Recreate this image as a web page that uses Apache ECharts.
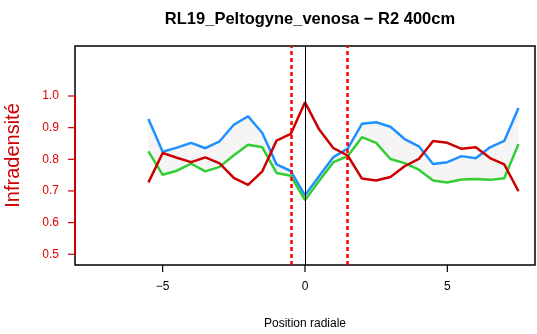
<!DOCTYPE html>
<html>
<head>
<meta charset="utf-8">
<script src="https://cdn.jsdelivr.net/npm/echarts@6/dist/echarts.min.js"></script>
<style>
html,body{margin:0;padding:0;background:#fff;}
#chart{width:537px;height:334px;}
</style>
</head>
<body>
<div id="chart"></div>
<script>
// positions radiales
var xPos = [-5.5,-5,-4.5,-4,-3.5,-3,-2.5,-2,-1.5,-1,-0.5,0,0.5,1,1.5,2,2.5,3,3.5,4,4.5,5,5.5,6,6.5,7,7.5];
// courbes
var blue  = [0.927,0.824,0.837,0.852,0.835,0.857,0.909,0.936,0.883,0.784,0.763,0.686,0.747,0.807,0.834,0.912,0.917,0.903,0.864,0.841,0.785,0.791,0.810,0.803,0.838,0.858,0.962];
var green = [0.825,0.751,0.764,0.786,0.762,0.776,0.813,0.846,0.838,0.757,0.748,0.671,0.732,0.791,0.810,0.870,0.852,0.801,0.788,0.767,0.733,0.727,0.736,0.738,0.735,0.740,0.848];
var red   = [0.727,0.820,0.805,0.791,0.806,0.787,0.741,0.719,0.762,0.859,0.880,0.980,0.894,0.835,0.812,0.739,0.733,0.744,0.778,0.801,0.858,0.852,0.833,0.838,0.804,0.784,0.699];
var yTicks = [0.5,0.6,0.7,0.8,0.9,1.0];
var xTicks = [-5,0,5];
var cuts = [-0.5,1.5];
var xMin = -8.08, xMax = 8.08;
var yMin = 0.466, yMax = 1.158;

var myChart = echarts.init(document.getElementById('chart'));
var font = 'Liberation Sans, Arial, Helvetica, sans-serif';

function pairs(ys){
    return xPos.map(function(x,i){ return [x, ys[i]]; });
}

var option = {
    animation: false,
    title: {
        text: 'RL19_Peltogyne_venosa \u2212 R2 400cm',
        left: 305, top: 6, textAlign: 'center',
        textStyle: {fontFamily: font, fontSize: 16.5, fontWeight: 'bold', color: '#000'}
    },
    grid: {
        left: 75, right: 2, top: 46, bottom: 69,
        containLabel: false, outerBoundsMode: 'none',
        show: true, borderColor: '#000', borderWidth: 1.5, backgroundColor: 'transparent'
    },
    xAxis: {
        type: 'value', min: xMin, max: xMax,
        name: 'Position radiale', nameLocation: 'middle', nameGap: 53,
        nameTextStyle: {fontFamily: font, fontSize: 12, color: '#000'},
        axisLine: {show: false, onZero: false},
        splitLine: {show: false},
        axisTick: {show: false},
        axisLabel: {
            customValues: xTicks, margin: 16, fontFamily: font, fontSize: 12, color: '#000',
            formatter: function(v){ return v < 0 ? '\u2212' + Math.abs(v) : String(v); }
        }
    },
    yAxis: {
        type: 'value', min: yMin, max: yMax,
        name: 'Infradensité', nameLocation: 'middle', nameGap: 52, nameRotate: 90,
        nameTextStyle: {fontFamily: font, fontSize: 20, color: '#cc0000'},
        axisLine: {show: false, onZero: false},
        splitLine: {show: false},
        axisTick: {show: false},
        axisLabel: {
            customValues: yTicks, margin: 16, fontFamily: font, fontSize: 12, color: '#e00000',
            formatter: function(v){ return v.toFixed(1); }
        }
    },
    series: [
        {
            // bande grise entre bleu et vert
            type: 'custom',
            data: pairs(blue),
            z: 1,
            renderItem: function(params, api){
                if (params.dataIndex !== 0) return;
                var pts = [];
                for (var i = 0; i < xPos.length; i++) pts.push(api.coord([xPos[i], blue[i]]));
                for (var j = xPos.length - 1; j >= 0; j--) pts.push(api.coord([xPos[j], green[j]]));
                return {type: 'polygon', shape: {points: pts}, style: {fill: '#f5f5f5', stroke: null}};
            },
            markLine: {
                silent: true, symbol: 'none', label: {show: false},
                lineStyle: {color: '#000', width: 1, type: 'solid'},
                data: [{xAxis: 0}]
            }
        },
        {type: 'line', data: pairs(blue), symbol: 'none', z: 3, lineStyle: {color: '#1e90ff', width: 2.5}},
        {type: 'line', data: pairs(green), symbol: 'none', z: 3, lineStyle: {color: '#32cd32', width: 2.5}},
        {
            type: 'line', data: pairs(red), symbol: 'none', z: 3, lineStyle: {color: '#cc0000', width: 2.5},
            markLine: {
                silent: true, symbol: 'none', label: {show: false},
                lineStyle: {color: '#ff0000', width: 2.5, type: [4, 3]},
                data: cuts.map(function(c){ return {xAxis: c}; })
            }
        }
    ]
};

myChart.setOption(option);

// axe rouge et graduations, placés via les échelles de la grille
var left = myChart.convertToPixel({xAxisIndex: 0}, xMin);
var bottom = myChart.convertToPixel({yAxisIndex: 0}, yMin);
var deco = [];
var yTop = myChart.convertToPixel({yAxisIndex: 0}, yTicks[yTicks.length - 1]);
var yBot = myChart.convertToPixel({yAxisIndex: 0}, yTicks[0]);
deco.push({type: 'line', z: 100, shape: {x1: left, y1: yBot, x2: left, y2: yTop}, style: {stroke: '#cc0000', lineWidth: 2}});
yTicks.forEach(function(v){
    var py = myChart.convertToPixel({yAxisIndex: 0}, v);
    deco.push({type: 'line', z: 100, shape: {x1: left - 7, y1: py, x2: left, y2: py}, style: {stroke: '#cc0000', lineWidth: 1.2}});
});
xTicks.forEach(function(v){
    var pxx = myChart.convertToPixel({xAxisIndex: 0}, v);
    deco.push({type: 'line', z: 100, shape: {x1: pxx, y1: bottom, x2: pxx, y2: bottom + 7}, style: {stroke: '#000', lineWidth: 1.2}});
});
myChart.setOption({graphic: {elements: deco}});
</script>
</body>
</html>
